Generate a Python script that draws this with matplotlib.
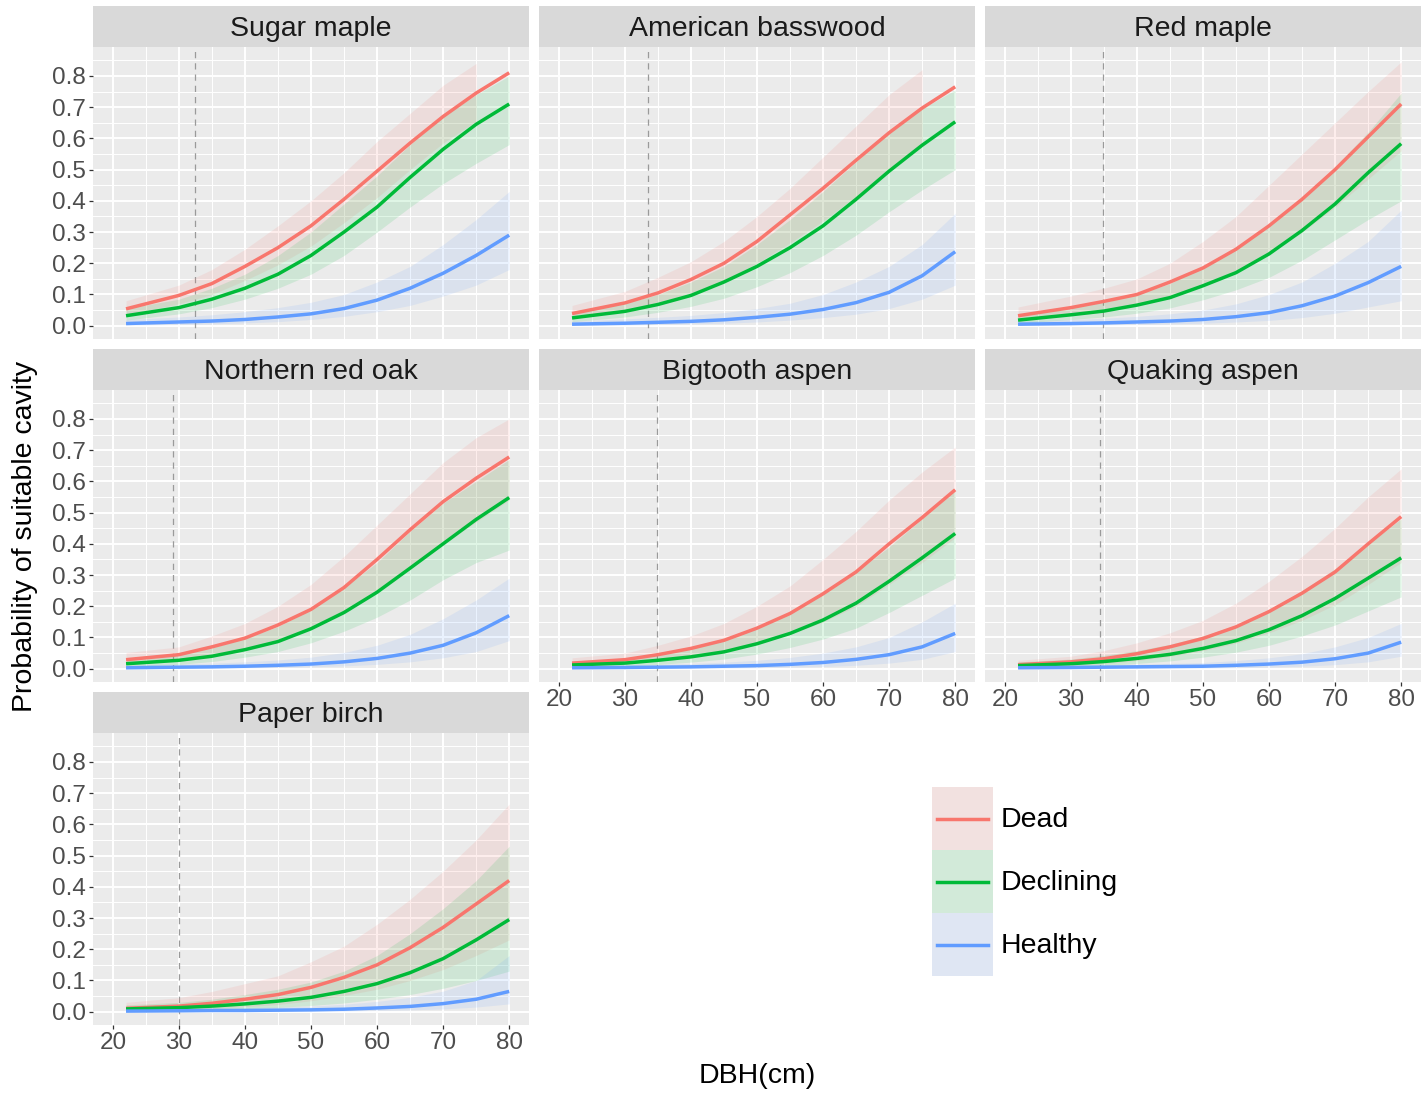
import numpy as np
import matplotlib
matplotlib.use("Agg")
import matplotlib.pyplot as plt
from matplotlib.patches import Patch
from matplotlib.lines import Line2D
from matplotlib.legend_handler import HandlerTuple, HandlerLine2D
from matplotlib.ticker import MultipleLocator, FormatStrFormatter

plt.rcParams['font.family'] = ['Liberation Sans', 'DejaVu Sans']

# ---------------- data ----------------
dbh = [22, 30, 35, 40, 45, 50, 55, 60, 65, 70, 75, 80]
species = ["Sugar maple", "American basswood", "Red maple", "Northern red oak",
           "Bigtooth aspen", "Quaking aspen", "Paper birch"]
conditions = ["Dead", "Declining", "Healthy"]
threshold_dbh = [32.4, 33.5, 34.9, 29.1, 34.8, 34.4, 30.0]
x_ticks = [20, 30, 40, 50, 60, 70, 80]
y_ticks = [0.0, 0.1, 0.2, 0.3, 0.4, 0.5, 0.6, 0.7, 0.8]
y_cap = 0.85

# Sugar maple
sm_dead = [0.054, 0.097, 0.135, 0.19, 0.25, 0.32, 0.405, 0.495, 0.585, 0.67, 0.745, 0.81]
sm_dead_lo = [0.035, 0.07, 0.10, 0.145, 0.195, 0.255, 0.33, 0.41, 0.50, 0.585, 0.655, 0.72]
sm_dead_hi = [0.08, 0.13, 0.18, 0.245, 0.32, 0.40, 0.49, 0.59, 0.68, 0.77, 0.84, 0.89]
sm_decl = [0.032, 0.058, 0.085, 0.12, 0.165, 0.225, 0.30, 0.38, 0.475, 0.565, 0.645, 0.71]
sm_decl_lo = [0.018, 0.038, 0.058, 0.085, 0.12, 0.165, 0.225, 0.30, 0.38, 0.455, 0.52, 0.58]
sm_decl_hi = [0.055, 0.085, 0.12, 0.165, 0.225, 0.30, 0.39, 0.48, 0.58, 0.67, 0.74, 0.80]
sm_heal = [0.007, 0.012, 0.015, 0.02, 0.028, 0.038, 0.055, 0.082, 0.12, 0.168, 0.225, 0.29]
sm_heal_lo = [0.002, 0.004, 0.006, 0.009, 0.013, 0.02, 0.03, 0.045, 0.065, 0.095, 0.13, 0.18]
sm_heal_hi = [0.02, 0.028, 0.035, 0.045, 0.058, 0.075, 0.10, 0.14, 0.19, 0.26, 0.34, 0.43]

# American basswood
ab_dead = [0.039, 0.073, 0.105, 0.148, 0.20, 0.27, 0.355, 0.44, 0.53, 0.618, 0.697, 0.765]
ab_dead_lo = [0.022, 0.048, 0.075, 0.105, 0.145, 0.20, 0.265, 0.335, 0.415, 0.50, 0.58, 0.65]
ab_dead_hi = [0.065, 0.11, 0.155, 0.205, 0.27, 0.35, 0.44, 0.54, 0.64, 0.74, 0.82, 0.88]
ab_decl = [0.025, 0.046, 0.068, 0.097, 0.14, 0.19, 0.25, 0.32, 0.405, 0.495, 0.578, 0.653]
ab_decl_lo = [0.013, 0.028, 0.043, 0.062, 0.088, 0.125, 0.17, 0.225, 0.29, 0.365, 0.435, 0.50]
ab_decl_hi = [0.045, 0.072, 0.10, 0.14, 0.19, 0.26, 0.34, 0.43, 0.525, 0.62, 0.695, 0.755]
ab_heal = [0.005, 0.008, 0.011, 0.014, 0.019, 0.027, 0.037, 0.052, 0.074, 0.107, 0.16, 0.237]
ab_heal_lo = [0.001, 0.002, 0.004, 0.006, 0.008, 0.012, 0.018, 0.026, 0.037, 0.055, 0.085, 0.13]
ab_heal_hi = [0.015, 0.022, 0.027, 0.033, 0.042, 0.055, 0.072, 0.10, 0.14, 0.19, 0.26, 0.36]

# Red maple
rm_dead = [0.032, 0.058, 0.078, 0.10, 0.14, 0.185, 0.245, 0.32, 0.405, 0.50, 0.605, 0.71]
rm_dead_lo = [0.015, 0.035, 0.05, 0.065, 0.09, 0.13, 0.175, 0.235, 0.30, 0.38, 0.47, 0.56]
rm_dead_hi = [0.06, 0.095, 0.12, 0.15, 0.20, 0.27, 0.35, 0.45, 0.55, 0.65, 0.75, 0.845]
rm_decl = [0.018, 0.035, 0.047, 0.066, 0.09, 0.128, 0.17, 0.23, 0.305, 0.39, 0.49, 0.583]
rm_decl_lo = [0.008, 0.02, 0.028, 0.04, 0.057, 0.083, 0.115, 0.155, 0.21, 0.275, 0.34, 0.40]
rm_decl_hi = [0.035, 0.058, 0.075, 0.10, 0.135, 0.19, 0.245, 0.32, 0.41, 0.51, 0.62, 0.745]
rm_heal = [0.005, 0.007, 0.009, 0.012, 0.015, 0.02, 0.029, 0.042, 0.064, 0.095, 0.138, 0.19]
rm_heal_lo = [0.001, 0.002, 0.003, 0.004, 0.006, 0.008, 0.012, 0.017, 0.026, 0.04, 0.06, 0.08]
rm_heal_hi = [0.015, 0.02, 0.024, 0.03, 0.038, 0.05, 0.07, 0.10, 0.14, 0.20, 0.27, 0.37]

# Northern red oak
ro_dead = [0.029, 0.045, 0.07, 0.098, 0.14, 0.19, 0.26, 0.35, 0.445, 0.535, 0.61, 0.678]
ro_dead_lo = [0.015, 0.028, 0.045, 0.065, 0.095, 0.13, 0.18, 0.245, 0.32, 0.40, 0.47, 0.54]
ro_dead_hi = [0.052, 0.07, 0.105, 0.145, 0.20, 0.27, 0.36, 0.46, 0.56, 0.66, 0.74, 0.80]
ro_decl = [0.016, 0.027, 0.04, 0.061, 0.087, 0.128, 0.18, 0.245, 0.322, 0.40, 0.478, 0.548]
ro_decl_lo = [0.007, 0.014, 0.023, 0.037, 0.055, 0.083, 0.12, 0.165, 0.22, 0.285, 0.34, 0.38]
ro_decl_hi = [0.032, 0.048, 0.067, 0.097, 0.135, 0.19, 0.26, 0.34, 0.44, 0.53, 0.60, 0.67]
ro_heal = [0.003, 0.005, 0.006, 0.008, 0.011, 0.015, 0.022, 0.033, 0.05, 0.075, 0.115, 0.17]
ro_heal_lo = [0.001, 0.001, 0.002, 0.003, 0.004, 0.006, 0.009, 0.014, 0.022, 0.035, 0.055, 0.09]
ro_heal_hi = [0.012, 0.015, 0.018, 0.022, 0.028, 0.037, 0.052, 0.075, 0.11, 0.16, 0.22, 0.29]

# Bigtooth aspen
ba_dead = [0.018, 0.029, 0.045, 0.065, 0.091, 0.13, 0.177, 0.24, 0.31, 0.40, 0.484, 0.573]
ba_dead_lo = [0.008, 0.015, 0.025, 0.038, 0.055, 0.08, 0.11, 0.15, 0.20, 0.27, 0.34, 0.42]
ba_dead_hi = [0.035, 0.05, 0.075, 0.105, 0.145, 0.20, 0.265, 0.35, 0.44, 0.54, 0.63, 0.71]
ba_decl = [0.012, 0.018, 0.027, 0.038, 0.054, 0.08, 0.113, 0.156, 0.21, 0.28, 0.355, 0.433]
ba_decl_lo = [0.005, 0.009, 0.014, 0.021, 0.031, 0.047, 0.068, 0.095, 0.13, 0.18, 0.235, 0.29]
ba_decl_hi = [0.025, 0.033, 0.048, 0.065, 0.09, 0.13, 0.18, 0.24, 0.31, 0.39, 0.48, 0.57]
ba_heal = [0.003, 0.004, 0.005, 0.006, 0.008, 0.01, 0.014, 0.02, 0.03, 0.045, 0.07, 0.113]
ba_heal_lo = [0.0, 0.001, 0.001, 0.002, 0.002, 0.003, 0.005, 0.007, 0.011, 0.018, 0.03, 0.055]
ba_heal_hi = [0.01, 0.012, 0.014, 0.017, 0.021, 0.027, 0.036, 0.05, 0.07, 0.10, 0.15, 0.21]

# Quaking aspen
qa_dead = [0.013, 0.022, 0.032, 0.048, 0.07, 0.097, 0.134, 0.183, 0.242, 0.31, 0.40, 0.487]
qa_dead_lo = [0.005, 0.01, 0.016, 0.026, 0.04, 0.058, 0.082, 0.115, 0.155, 0.205, 0.27, 0.34]
qa_dead_hi = [0.027, 0.04, 0.058, 0.083, 0.115, 0.155, 0.21, 0.28, 0.36, 0.45, 0.55, 0.64]
qa_decl = [0.01, 0.016, 0.023, 0.033, 0.046, 0.065, 0.09, 0.125, 0.17, 0.225, 0.29, 0.355]
qa_decl_lo = [0.004, 0.007, 0.011, 0.017, 0.025, 0.037, 0.053, 0.075, 0.105, 0.14, 0.185, 0.23]
qa_decl_hi = [0.022, 0.031, 0.043, 0.058, 0.078, 0.105, 0.14, 0.19, 0.25, 0.32, 0.40, 0.48]
qa_heal = [0.003, 0.004, 0.005, 0.006, 0.007, 0.008, 0.011, 0.015, 0.021, 0.032, 0.05, 0.085]
qa_heal_lo = [0.0, 0.001, 0.001, 0.001, 0.002, 0.002, 0.003, 0.005, 0.008, 0.013, 0.022, 0.04]
qa_heal_hi = [0.01, 0.011, 0.013, 0.015, 0.017, 0.02, 0.026, 0.035, 0.048, 0.07, 0.10, 0.145]

# Paper birch
pb_dead = [0.011, 0.018, 0.027, 0.04, 0.055, 0.078, 0.11, 0.15, 0.205, 0.27, 0.345, 0.42]
pb_dead_lo = [0.003, 0.006, 0.01, 0.016, 0.023, 0.035, 0.052, 0.072, 0.10, 0.135, 0.18, 0.23]
pb_dead_hi = [0.03, 0.045, 0.065, 0.09, 0.115, 0.16, 0.21, 0.28, 0.36, 0.45, 0.55, 0.665]
pb_decl = [0.009, 0.013, 0.018, 0.025, 0.034, 0.046, 0.065, 0.09, 0.125, 0.17, 0.23, 0.295]
pb_decl_lo = [0.003, 0.005, 0.007, 0.01, 0.014, 0.02, 0.028, 0.04, 0.055, 0.075, 0.10, 0.13]
pb_decl_hi = [0.022, 0.03, 0.04, 0.055, 0.072, 0.095, 0.13, 0.18, 0.25, 0.33, 0.42, 0.53]
pb_heal = [0.002, 0.003, 0.004, 0.004, 0.005, 0.006, 0.008, 0.012, 0.017, 0.026, 0.04, 0.065]
pb_heal_lo = [0.0, 0.0, 0.001, 0.001, 0.001, 0.002, 0.002, 0.004, 0.006, 0.009, 0.015, 0.025]
pb_heal_hi = [0.008, 0.01, 0.011, 0.013, 0.015, 0.018, 0.024, 0.033, 0.046, 0.066, 0.10, 0.18]

series = {
    "Sugar maple": [(sm_dead, sm_dead_lo, sm_dead_hi), (sm_decl, sm_decl_lo, sm_decl_hi), (sm_heal, sm_heal_lo, sm_heal_hi)],
    "American basswood": [(ab_dead, ab_dead_lo, ab_dead_hi), (ab_decl, ab_decl_lo, ab_decl_hi), (ab_heal, ab_heal_lo, ab_heal_hi)],
    "Red maple": [(rm_dead, rm_dead_lo, rm_dead_hi), (rm_decl, rm_decl_lo, rm_decl_hi), (rm_heal, rm_heal_lo, rm_heal_hi)],
    "Northern red oak": [(ro_dead, ro_dead_lo, ro_dead_hi), (ro_decl, ro_decl_lo, ro_decl_hi), (ro_heal, ro_heal_lo, ro_heal_hi)],
    "Bigtooth aspen": [(ba_dead, ba_dead_lo, ba_dead_hi), (ba_decl, ba_decl_lo, ba_decl_hi), (ba_heal, ba_heal_lo, ba_heal_hi)],
    "Quaking aspen": [(qa_dead, qa_dead_lo, qa_dead_hi), (qa_decl, qa_decl_lo, qa_decl_hi), (qa_heal, qa_heal_lo, qa_heal_hi)],
    "Paper birch": [(pb_dead, pb_dead_lo, pb_dead_hi), (pb_decl, pb_decl_lo, pb_decl_hi), (pb_heal, pb_heal_lo, pb_heal_hi)],
}

# ---------------- styling ----------------
colors = ["#F8766D", "#00BA38", "#619CFF"]
ribbon_alpha = 0.12
W, H = 1425, 1095
DPI = 100
fig = plt.figure(figsize=(W / DPI, H / DPI), dpi=DPI, facecolor="white")

col_x = [93, 539, 985]
row_top = [47, 390, 733]
pw, ph, sh = 436, 292, 41
tick_fs = 17.5
big_fs = 20.5

def fig_rect(x, y, w, h):
    return [x / W, 1 - (y + h) / H, w / W, h / H]

positions = [(0, 0), (0, 1), (0, 2), (1, 0), (1, 1), (1, 2), (2, 0)]
show_x = {"Bigtooth aspen", "Quaking aspen", "Paper birch"}

xg = np.array(dbh, dtype=float)
for name, (r, c), thr in zip(species, positions, threshold_dbh):
    ax = fig.add_axes(fig_rect(col_x[c], row_top[r], pw, ph))
    ax.set_facecolor("#EBEBEB")
    for s in ax.spines.values():
        s.set_visible(False)
    ax.set_xlim(17, 83)
    ax.set_ylim(-0.0425, 0.8925)
    ax.set_xticks(x_ticks)
    ax.set_yticks(y_ticks)
    ax.xaxis.set_minor_locator(MultipleLocator(5))
    ax.yaxis.set_minor_locator(MultipleLocator(0.05))
    ax.grid(which="major", color="white", lw=1.4)
    ax.grid(which="minor", color="white", lw=0.7)
    ax.set_axisbelow(True)
    ax.tick_params(which="minor", length=0)
    ax.tick_params(which="major", length=3.2, width=0.9, color="#333333",
                   labelsize=tick_fs, labelcolor="#4D4D4D", pad=2)
    ax.yaxis.set_major_formatter(FormatStrFormatter("%.1f"))
    if c != 0:
        ax.tick_params(axis="y", length=0, labelleft=False)
    if name not in show_x:
        ax.tick_params(axis="x", length=0, labelbottom=False)

    ax.axvline(thr, color="#9A9A9A", lw=0.9, ls=(0, (5, 4)), zorder=1.5)

    for (fit, lo, hi), col in zip(series[name], colors):
        lo_a = np.array(lo)
        hi_a = np.array(hi)
        ax.fill_between(xg, lo_a, hi_a, where=hi_a <= y_cap, color=col,
                        alpha=ribbon_alpha, lw=0, zorder=2)
    for (fit, lo, hi), col in zip(series[name], colors):
        ax.plot(xg, fit, color=col, lw=2.5, solid_capstyle="butt",
                solid_joinstyle="round", zorder=3)

    sax = fig.add_axes(fig_rect(col_x[c], row_top[r] - sh, pw, sh))
    sax.set_facecolor("#D9D9D9")
    sax.set_xticks([])
    sax.set_yticks([])
    for s in sax.spines.values():
        s.set_visible(False)
    sax.text(0.5, 0.45, name, ha="center", va="center", fontsize=big_fs,
             color="#1A1A1A", transform=sax.transAxes)

# axis titles
fig.text(757 / W, 1 - 1076 / H, "DBH(cm)", ha="center", va="center", fontsize=big_fs)
fig.text(25 / W, 1 - 536 / H, "Probability of suitable cavity", ha="center",
         va="center", rotation=90, fontsize=big_fs)


class CenteredLineHandler(HandlerLine2D):
    """Legend line centred vertically in the key and slightly inset."""
    def create_artists(self, legend, orig_handle, xdescent, ydescent, width,
                       height, fontsize, trans):
        arts = super().create_artists(legend, orig_handle, xdescent, ydescent,
                                      width, height, fontsize, trans)
        inset = 0.08 * width
        for a in arts:
            if isinstance(a, Line2D):
                a.set_xdata([-xdescent + inset, -xdescent + width - inset])
                a.set_ydata([height / 2 - ydescent] * 2)
        return arts


# legend
handles = []
for col in colors:
    bg = Patch(facecolor="#F2F2F2", edgecolor="none")
    fill = Patch(facecolor=col, alpha=0.13, edgecolor="none")
    ln = Line2D([0], [0], color=col, lw=2.5)
    handles.append((bg, fill, ln))
leg = fig.legend(handles, conditions,
                 handler_map={tuple: HandlerTuple(ndivide=1, pad=0),
                              Line2D: CenteredLineHandler()},
                 loc="upper left", bbox_to_anchor=(932 / W, 1 - 787 / H),
                 frameon=False, fontsize=big_fs, handlelength=2.15, handleheight=3.03,
                 labelspacing=0.0, handletextpad=0.25, borderpad=0, borderaxespad=0)

fig.savefig("out.png", dpi=DPI, facecolor="white")
